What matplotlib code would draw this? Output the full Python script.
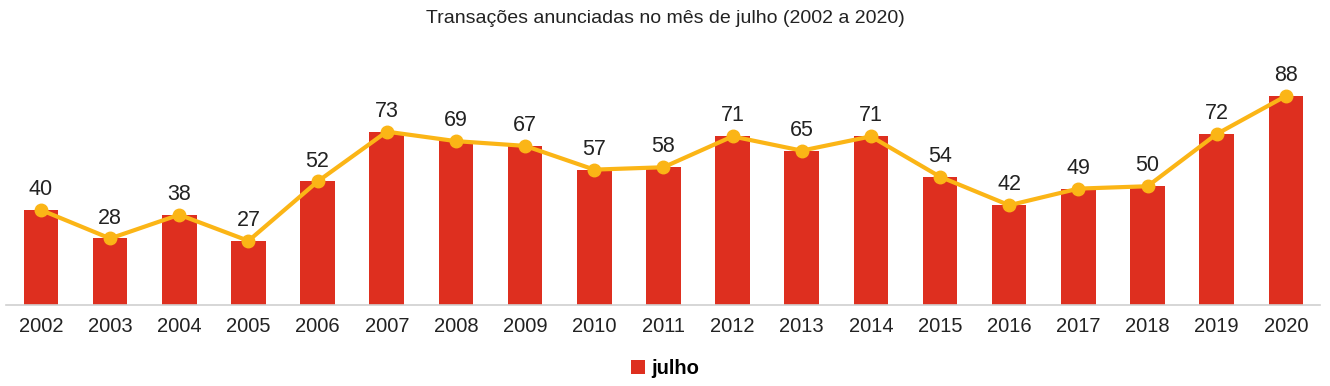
import matplotlib.pyplot as plt
import numpy as np

plt.rcParams['font.family'] = ['Liberation Sans', 'DejaVu Sans']

# Dados
anos = [str(a) for a in range(2002, 2021)]
julho = [40, 28, 38, 27, 52, 73, 69, 67, 57, 58, 71, 65, 71, 54, 42, 49, 50, 72, 88]

cor_barra = '#DE2F1F'
cor_linha = '#FBB516'

fig = plt.figure(figsize=(13.3, 3.86), dpi=100)
ax = fig.add_axes([0.0048, 0.21, 0.988, 0.615])

x = np.arange(len(anos))
ax.bar(x, julho, width=0.5, color=cor_barra, label='julho', zorder=2)
ax.plot(x, julho, color=cor_linha, linewidth=3, marker='o', markersize=9, zorder=3)

for xi, v in zip(x, julho):
    ax.text(xi, v + 4.2, str(v), ha='center', va='bottom', fontsize=15.5, color='#222222')

ax.set_xlim(-0.5, len(anos) - 0.5)
ax.set_ylim(0, 100)
ax.set_xticks(x)
ax.set_xticklabels(anos, fontsize=14.5, color='#222222')
ax.tick_params(axis='x', length=0, pad=9)
ax.set_yticks([])
for s in ['top', 'right', 'left']:
    ax.spines[s].set_visible(False)
ax.spines['bottom'].set_color('#D0D0D0')
ax.spines['bottom'].set_linewidth(1.2)

fig.text(0.5, 0.953, 'Transações anunciadas no mês de julho (2002 a 2020)',
         ha='center', va='center', fontsize=14, color='#222222')

leg = fig.legend(handles=ax.patches[:1], labels=['julho'], loc='center',
                 bbox_to_anchor=(0.5, 0.045), frameon=False, handlelength=0.7,
                 handleheight=0.7, handletextpad=0.3, prop={'weight': 'bold', 'size': 14.5})

fig.savefig('out.png', dpi=100)
